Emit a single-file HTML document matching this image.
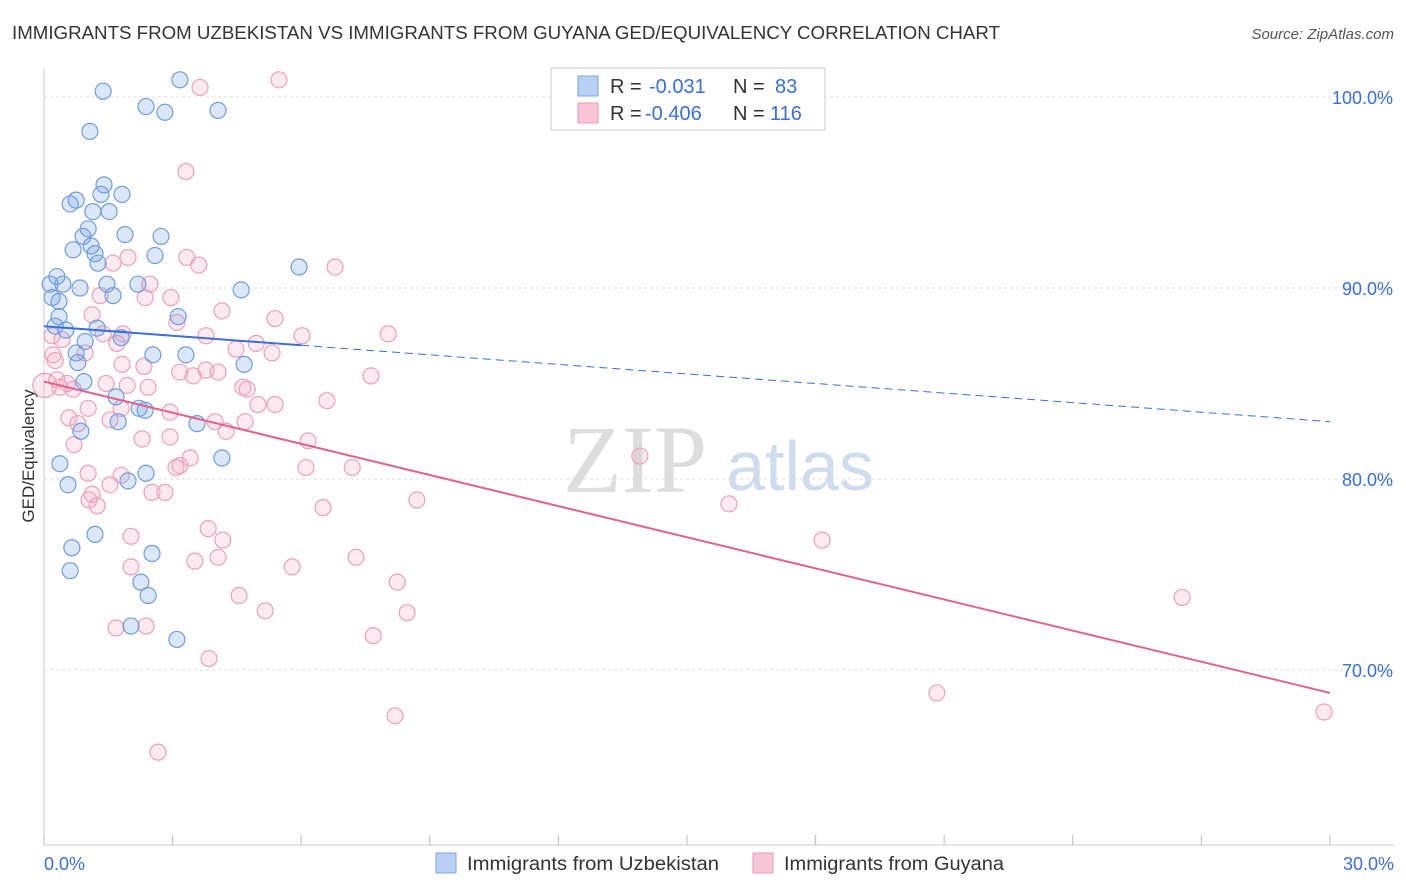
<!DOCTYPE html>
<html><head><meta charset="utf-8"><style>
body{margin:0;background:#fff;font-family:"Liberation Sans",sans-serif;}
#wrap{position:relative;width:1406px;height:892px;overflow:hidden;}
</style></head><body>
<div id="wrap">
<svg id="svg" width="1406" height="892">
<text x="12" y="39" font-size="18" fill="#333" textLength="988" lengthAdjust="spacingAndGlyphs">IMMIGRANTS FROM UZBEKISTAN VS IMMIGRANTS FROM GUYANA GED/EQUIVALENCY CORRELATION CHART</text>
<text x="1394" y="39" font-size="15" fill="#555" font-style="italic" text-anchor="end">Source: ZipAtlas.com</text>
<text x="635" y="492" font-size="96" fill="#ddd" font-family="Liberation Serif" text-anchor="middle">ZIP</text>
<text x="800" y="490" font-size="70" fill="#cfdcee" text-anchor="middle">atlas</text>
<text x="34" y="456" font-size="17" fill="#333" text-anchor="middle" transform="rotate(-90 34 456)">GED/Equivalency</text>
<g id="grid"></g><g id="pts"></g><g id="lines"></g>
<g>
<rect x="551" y="68" width="274" height="62" fill="#fff" stroke="#ccc"/>
<rect x="578" y="76" width="20" height="20" fill="#b9d0f3" stroke="#7aa5e5"/>
<rect x="578" y="103" width="20" height="20" fill="#f9c6d6" stroke="#eb9ab6"/>
<text y="93" font-size="20" fill="#333"><tspan x="610">R =</tspan><tspan x="649" fill="#3a6fd8">-0.031</tspan><tspan x="733">N =</tspan><tspan x="775" fill="#3a6fd8">83</tspan></text>
<text y="120" font-size="20" fill="#333"><tspan x="610">R =</tspan><tspan x="645" fill="#3a6fd8">-0.406</tspan><tspan x="733">N =</tspan><tspan x="770" fill="#3a6fd8">116</tspan></text>
</g>
<g>
<rect x="436" y="853" width="20" height="20" fill="#b9d0f3" stroke="#7aa5e5"/>
<text x="467" y="870" font-size="19" fill="#333" textLength="252" lengthAdjust="spacingAndGlyphs">Immigrants from Uzbekistan</text>
<rect x="753" y="853" width="20" height="20" fill="#f9c6d6" stroke="#eb9ab6"/>
<text x="784" y="870" font-size="19" fill="#333" textLength="220" lengthAdjust="spacingAndGlyphs">Immigrants from Guyana</text>
</g>
<text x="44" y="870" font-size="18" fill="#3a6fd8">0.0%</text>
<text x="1394" y="870" font-size="18" fill="#3a6fd8" text-anchor="end">30.0%</text>
</svg></div>
<script>
const yTicks=[100,90,80,70];
const blueX=[3.17,1.38,2.38,2.82,4.06,1.07,1.40,1.33,1.82,0.61,0.75,1.14,1.52,1.03,1.89,0.91,2.73,0.68,1.10,1.19,2.59,1.26,5.95,0.30,0.14,0.44,0.84,1.47,2.19,4.60,0.19,0.35,1.61,0.35,3.13,0.26,0.51,1.24,0.96,1.80,0.75,2.54,3.31,0.79,4.67,0.93,1.68,2.22,2.36,1.73,3.57,0.86,4.15,0.37,2.38,0.56,1.96,1.19,0.65,2.52,0.61,2.26,2.43,2.03,3.10];
const blueY=[100.9,100.3,99.5,99.2,99.3,98.2,95.4,94.9,94.9,94.4,94.6,94.0,94.0,93.1,92.8,92.7,92.7,92.0,92.2,91.8,91.7,91.3,91.1,90.6,90.2,90.2,90.0,90.2,90.2,89.9,89.5,89.3,89.6,88.5,88.5,88.0,87.8,87.9,87.2,87.4,86.6,86.5,86.5,86.1,86.0,85.1,84.3,83.7,83.6,83.0,82.9,82.5,81.1,80.8,80.3,79.7,79.9,77.1,76.4,76.1,75.2,74.6,73.9,72.3,71.6];
const pinkX=[5.48,3.64,3.31,3.33,3.61,1.96,1.61,6.79,2.47,2.96,1.31,2.36,4.15,1.12,3.10,5.39,8.03,6.02,1.84,1.38,3.78,0.19,0.42,4.95,4.48,5.32,0.21,1.70,0.26,0.96,1.82,2.33,3.78,4.06,3.17,3.48,7.63,0.30,0.54,1.45,1.94,2.43,4.64,4.74,0.68,0.37,6.60,4.99,5.39,1.03,1.80,2.94,0.58,1.54,4.69,3.99,0.79,4.25,2.29,2.94,6.16,0.70,3.41,13.90,3.17,3.08,6.11,7.19,1.03,1.80,1.54,1.12,2.82,1.05,2.52,1.24,8.70,15.98,6.51,3.83,2.03,4.17,18.15,7.28,4.06,3.52,2.03,5.79,8.24,4.55,26.55,5.16,8.47,1.68,2.38,7.68,3.85,20.83,8.19,29.86,2.66,0.02];
const pinkY=[100.9,100.5,96.1,91.6,91.2,91.6,91.3,91.1,90.2,89.5,89.6,89.5,88.8,88.6,88.2,88.4,87.6,87.5,87.6,87.6,87.5,87.5,87.3,87.1,86.8,86.6,86.5,87.1,86.2,86.6,86.0,85.9,85.7,85.6,85.6,85.4,85.4,85.2,85.0,85.0,84.9,84.8,84.8,84.7,84.7,84.8,84.1,83.9,83.9,83.7,83.7,83.5,83.2,83.1,83.0,83.0,82.9,82.5,82.1,82.2,82.0,81.8,81.1,81.2,80.7,80.6,80.6,80.6,80.3,80.2,79.7,79.2,79.3,78.9,79.3,78.6,78.9,78.7,78.5,77.4,77.0,76.8,76.8,75.9,75.9,75.7,75.4,75.4,74.6,73.9,73.8,73.1,73.0,72.2,72.3,71.8,70.6,68.8,67.6,67.8,65.7,84.9];
const blueTrend=[88.0,83.0];   // at x=0 and x=30
const pinkTrend=[85.1,68.8];
const xs=v=>44+v/30*1286, ys=v=>97+(100-v)*19.1;
const NS='http://www.w3.org/2000/svg';
function mk(t,a,p){const e=document.createElementNS(NS,t);for(const k in a)e.setAttribute(k,a[k]);p.appendChild(e);return e;}
const grid=document.getElementById('grid'),pts=document.getElementById('pts'),lines=document.getElementById('lines');
mk('line',{x1:44,y1:68,x2:44,y2:845,stroke:'#ccc'},grid);
mk('line',{x1:44,y1:845,x2:1394,y2:845,stroke:'#ccc'},grid);
for(let i=0;i<=10;i++){const x=xs(i*3);const l=mk('line',{x1:x,y1:845,x2:x,y2:835,stroke:'#bbb'},grid);

}
yTicks.forEach(v=>{const y=ys(v);const g=mk('line',{x1:44,y1:y,x2:1394,y2:y,stroke:'#ddd','stroke-dasharray':'3,3'},grid);


const t=mk('text',{x:1393,y:y+7,'font-size':18,fill:'#3a6fd8','text-anchor':'end'},grid);t.textContent=v.toFixed(1)+'%';

});
function draw(X,Y,fill,stroke,name){X.forEach((x,i)=>{const r=(name==='pink-point'&&i===X.length-1)?12:8;
const c=mk('circle',{cx:xs(x),cy:ys(Y[i]),r:r,fill:fill,stroke:stroke,'stroke-width':1.2},pts);

});}
draw(pinkX,pinkY,'rgba(245,170,195,0.25)','#eba0bb','pink-point');
draw(blueX,blueY,'rgba(110,160,230,0.25)','#6f9ddf','blue-point');
const bAt=x=>blueTrend[0]+(blueTrend[1]-blueTrend[0])*x/30;
let l1=mk('line',{x1:xs(0),y1:ys(bAt(0)),x2:xs(6),y2:ys(bAt(6)),stroke:'#3a6fd8','stroke-width':2},lines);


let l2=mk('line',{x1:xs(6),y1:ys(bAt(6)),x2:xs(30),y2:ys(bAt(30)),stroke:'#3a6fd8','stroke-width':1,'stroke-dasharray':'8,5'},lines);


let l3=mk('line',{x1:xs(0),y1:ys(pinkTrend[0]),x2:xs(30),y2:ys(pinkTrend[1]),stroke:'#e0628f','stroke-width':2},lines);


</script>
</body></html>
